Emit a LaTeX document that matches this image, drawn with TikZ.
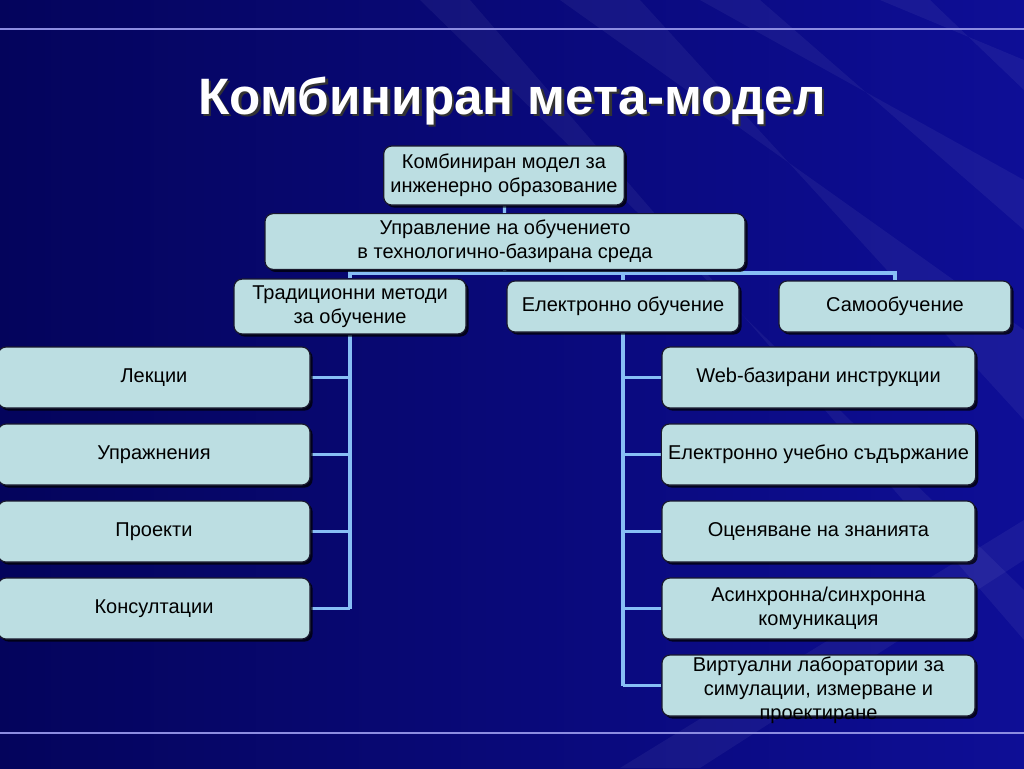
\documentclass[tikz,border=0pt]{standalone}
\usepackage{fontspec}
\setmainfont{Liberation Sans}
\usetikzlibrary{positioning,shadows,backgrounds}
\definecolor{bgdark}{RGB}{4,4,92}
\definecolor{bgmid}{RGB}{14,14,150}
\definecolor{boxfill}{RGB}{188,222,226}
\definecolor{boxline}{RGB}{25,25,45}
\definecolor{barblue}{RGB}{135,190,245}
\definecolor{rulecol}{RGB}{140,140,225}

\begin{document}
\begin{tikzpicture}[x=0.5pt,y=-0.5pt,box/.style={draw=boxline,fill=boxfill,rounded corners=4pt,line width=0.6pt,align=center,minimum height=30.5pt,font=\fontsize{10}{11.8}\selectfont,drop shadow={shadow xshift=1.3pt,shadow yshift=-1.3pt,fill=black,opacity=0.75}},topbox/.style={box,minimum width=116pt,minimum height=25.5pt},leftbox/.style={box,minimum width=156pt},rightbox/.style={box,minimum width=156.5pt},bar/.style={draw=barblue,line width=1.6pt},streak/.style={fill=white,opacity=0.05}]
\useasboundingbox (0,0) rectangle (1024,768);
\begin{scope}[on background layer]
\fill[left color=bgdark,right color=bgmid] (0,0) rectangle (1024,768);
\fill[streak] (560,0) -- (640,0) -- (1024,420) -- (1024,330) -- cycle;
\fill[streak] (700,0) -- (760,0) -- (1024,230) -- (1024,180) -- cycle;
\fill[streak] (420,0) -- (470,0) -- (1024,640) -- (1024,590) -- cycle;
\fill[streak] (880,0) -- (930,0) -- (1024,90) -- (1024,60) -- cycle;
\fill[streak] (620,768) -- (700,768) -- (1024,560) -- (1024,520) -- cycle;
\draw[rulecol,line width=1pt] (0,29) -- (1024,29);
\draw[rulecol,line width=1pt] (0,733) -- (1024,733);
\end{scope}
% title
\node[font=\fontsize{25.6}{30}\bfseries\selectfont,text=black!80] at (514.5,103.5) {Комбиниран мета-модел};
\node[font=\fontsize{25.6}{30}\bfseries\selectfont,text=white] (title) at (512,101) {Комбиниран мета-модел};
% top levels
\node[box,minimum width=119pt,minimum height=29.5pt] (root) at (504,175.5) {Комбиниран модел за\\инженерно образование};
\node[box,minimum width=240pt,minimum height=25.5pt] (mgmt) at (505,241.5) {Управление на обучението\\в технологично-базирана среда};
\node[topbox] (trad) at (350,306.5) {Традиционни методи\\за обучение};
\node[topbox] (elearn) at (623,306.5) {Електронно обучение};
\node[topbox] (self) at (895,306.5) {Самообучение};
% traditional methods
\foreach \n/\y/\t in {1/377.5/Лекции,2/454.5/Упражнения,3/531.5/Проекти,4/608.5/Консултации}
  \node[leftbox] (l\n) at (154,\y) {\t};
% e-learning
\foreach \n/\y/\t in {1/377.5/{Web-базирани инструкции},2/454.5/{Електронно учебно съдържание},3/531.5/{Оценяване на знанията},4/608.5/{Асинхронна/синхронна\\комуникация}}
  \node[rightbox] (r\n) at (818.5,\y) {\t};
\node[rightbox] (r5) at (818.5,685.5) {};
\node[align=center,inner sep=0pt,anchor=north,font=\fontsize{10}{12}\selectfont] (r5text) at ([yshift=-1pt]r5.north) {Виртуални лаборатории за\\симулации, измерване и\\проектиране};
% connectors
\begin{scope}[on background layer]
\coordinate (hub) at (504,273);
\draw[bar] (root) -- (mgmt);
\draw[bar] (mgmt.south) -- (hub);
\draw[bar] (trad.north) |- (hub) -| (self.north);
\draw[bar] (elearn.north) -- (elearn.north |- hub);
\draw[bar] (trad.south) -- (trad.south |- l4.east);
\foreach \n in {1,...,4} \draw[bar] (l\n.east) -- (l\n.east -| trad.south);
\draw[bar] (elearn.south) -- (elearn.south |- r5.west);
\foreach \n in {1,...,5} \draw[bar] (r\n.west) -- (r\n.west -| elearn.south);
\end{scope}
\end{tikzpicture}
\end{document}
